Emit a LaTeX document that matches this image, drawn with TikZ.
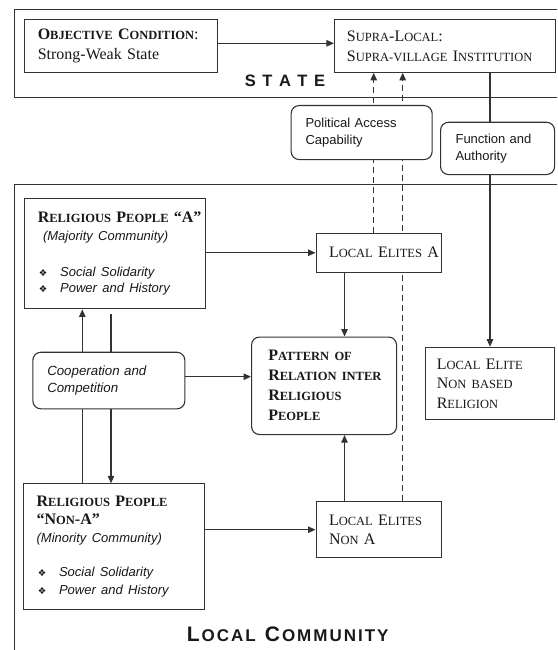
\documentclass[tikz,border=0pt]{standalone}
\usepackage{fontspec}
\setmainfont{Liberation Serif}
\setsansfont{Liberation Sans}
\newfontfamily\djv{DejaVu Sans}
\usetikzlibrary{arrows.meta}
\pgfdeclarelayer{bg}
\pgfsetlayers{bg,main}
\AtBeginDocument{\hyphenpenalty=10000 \exhyphenpenalty=10000 \uchyph=0}
\newcommand\smc[1]{{\fontsize{12.5}{19.5}\selectfont #1}}
\newcommand\bul{\hspace*{1.2pt}\makebox[21.2pt][l]{\djv\fontsize{9.5}{9}\selectfont ❖}}
\newcommand\sfit{\sffamily\itshape\fontsize{13}{16}\selectfont}
\begin{document}
\begin{tikzpicture}[x=1pt,y=-1pt,
  line/.style={draw=black!80, line width=1.1pt},
  box/.style={line, fill=white, anchor=north west, inner ysep=0pt, align=left, text=black!90, font=\fontsize{16}{19.5}\selectfont},
  rbox/.style={box, rounded corners=8pt},
  sbox/.style={rbox, font=\sffamily\fontsize{13}{16.7}\selectfont},
  arr/.style={line, -{Triangle[length=7.5pt,width=6.5pt]}},
  dsh/.style={arr, dash pattern=on 6pt off 4pt},
  frame/.style={line, anchor=north west, inner sep=0pt},
  lbl/.style={text=black!90, inner sep=0pt}
]
\useasboundingbox (0,0) rectangle (557,650);
\clip (0,0) rectangle (557,650);

% outer frames
\node[frame, minimum width=600pt, minimum height=87.4pt] (state) at (13.5,9.3) {};
\node[frame, minimum width=600pt, minimum height=520pt] (local) at (13.5,184.3) {};

% frame titles
\node[lbl, font=\sffamily\bfseries\fontsize{16.5}{16.5}\selectfont] (statelbl) at (285,80.8)
  {S\kern6.5pt T\kern6.5pt A\kern6.5pt T\kern6.5pt E};
\node[lbl, font=\sffamily\bfseries\fontsize{17}{17}\selectfont] (loclbl) at (287.7,634.5)
  {{\fontsize{21}{21}\selectfont L}\kern2pt O\kern2pt C\kern2pt A\kern2pt L\hspace{9pt}{\fontsize{21}{21}\selectfont C}\kern2pt O\kern2pt M\kern2pt M\kern2pt U\kern2pt N\kern2pt I\kern2pt T\kern2pt Y};

% boxes
\node[box, inner xsep=13pt, text width=166.5pt, minimum height=52.4pt] (obj) at (24.2,19.3)
  {{\bfseries O\smc{BJECTIVE}~C\smc{ONDITION}}:\\Strong-Weak State};
\node[box, inner xsep=12.5pt, text width=196.1pt, minimum height=52.4pt] (supra) at (333.9,19.3)
  {S\smc{UPRA}-L\smc{OCAL}:\\S\smc{UPRA-VILLAGE}~I\smc{NSTITUTION}};
\node[sbox, inner xsep=14.4pt, text width=112.2pt, minimum height=54pt] (pac) at (290.6,105)
  {Political Access\\Capability};
\node[sbox, inner xsep=15pt, text width=84pt, minimum height=52.3pt] (fa) at (440,121.7)
  {Function and\\Authority};
\node[box, inner xsep=13pt, text width=155.1pt, minimum height=110pt] (A) at (24.2,198.3)
  {{\bfseries R\smc{ELIGIOUS}~P\smc{EOPLE}~“A”}\\[-2.2pt]
   {\sfit\ (Majority Community)}\\[16.5pt]
   {\sfit\bul Social Solidarity}\\[-2.8pt]
   {\sfit\bul Power and History}};
\node[box, inner xsep=13pt, text width=99pt, minimum height=39pt] (leA) at (315.5,232.7)
  {L\smc{OCAL}~E\smc{LITES}~A};
\node[rbox, inner xsep=16.7pt, text width=111.6pt, minimum height=97.5pt, font=\bfseries\fontsize{16}{20}\selectfont] (pat) at (251,336.5)
  {P\smc{ATTERN}~\smc{OF}\\R\smc{ELATION}~\smc{INTER}\\R\smc{ELIGIOUS}\\P\smc{EOPLE}};
\node[box, inner xsep=11.7pt, text width=106.3pt, minimum height=72.6pt] (nb) at (424.5,346.7)
  {L\smc{OCAL}~E\smc{LITE}\\N\smc{ON}~\smc{BASED}\\R\smc{ELIGION}};
\node[sbox, inner xsep=14.4pt, text width=123.2pt, minimum height=56.6pt, font=\sffamily\itshape\fontsize{13.3}{16.7}\selectfont] (coop) at (32.3,351.7)
  {Cooperation and\\Competition};
\node[box, inner xsep=13pt, text width=155.2pt, minimum height=126pt] (nonA) at (23.1,483.3)
  {{\bfseries R\smc{ELIGIOUS}~P\smc{EOPLE}}\\[-1.2pt]
   {\bfseries “N\smc{ON}-A”}\\[-2.2pt]
   {\sfit (Minority Community)}\\[14.9pt]
   {\sfit\bul Social Solidarity}\\[-1.2pt]
   {\sfit\bul Power and History}};
\node[box, inner xsep=13pt, text width=99.7pt, minimum height=56.3pt] (leN) at (315.5,501)
  {L\smc{OCAL}~E\smc{LITES}\\N\smc{ON}~A};

% connectors
\begin{pgfonlayer}{bg}
\coordinate (ya) at (0,43.3);
\coordinate (yc) at (0,376.7);
\coordinate (xd1) at (373.7,0);
\coordinate (xd2) at (402.7,0);
\coordinate (xf) at (490,0);
\coordinate (xp) at (344.5,0);
\coordinate (xu) at (82.3,0);
\coordinate (xdn) at (111,0);
\draw[arr] (obj.east |- ya) -- (supra.west |- ya);
\draw[dsh] (leA.north -| xd1) -- (supra.south -| xd1);
\draw[dsh] (leN.north -| xd2) -- (supra.south -| xd2);
\draw[arr] (supra.south -| xf) -- (nb.north -| xf);
\draw[arr] (A.east |- leA.west) -- (leA.west);
\draw[arr] (leA.south -| xp) -- (pat.north -| xp);
\draw[arr] (leN.north -| xp) -- (pat.south -| xp);
\draw[arr] (nonA.east |- leN.west) -- (leN.west);
\draw[arr] (coop.east |- yc) -- (pat.west |- yc);
\draw[arr] (nonA.north -| xu) -- (A.south -| xu);
\draw[arr, shorten <=5pt] (A.south -| xdn) -- (nonA.north -| xdn);
\end{pgfonlayer}
\end{tikzpicture}
\end{document}
